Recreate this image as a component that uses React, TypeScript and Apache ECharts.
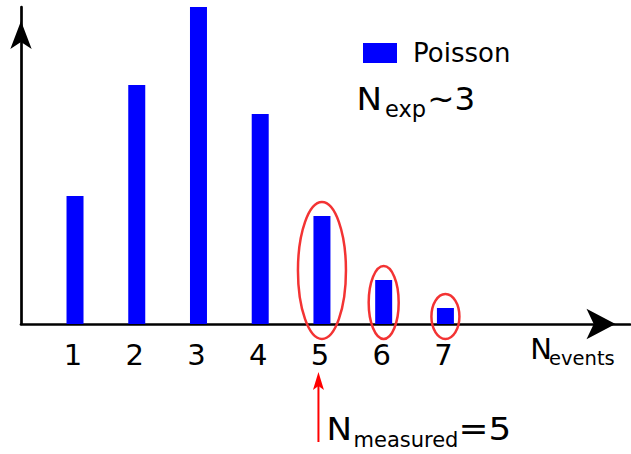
import React, { useEffect, useRef } from "react";
import * as echarts from "echarts";

const categories = [1, 2, 3, 4, 5, 6, 7];
const poissonValues = [128, 239, 317, 210, 108, 44, 16];
const tickLabels = ["1", "2", "3", "4", "5", "6", "7"];
const highlighted = [5, 6, 7];
const highlightRx = [24, 15, 14];

const FONT = "DejaVu Sans";
const central = (baseline: number, fs: number) => baseline - 0.346 * fs;

export default function App() {
  const ref = useRef<HTMLDivElement>(null);
  useEffect(() => {
    if (!ref.current) return;
    const chart = echarts.init(ref.current, null, { renderer: "svg" });
    const option: any = {
      animation: false,
      backgroundColor: "#ffffff",
      grid: { left: 21, right: 1, top: 7, bottom: 130, containLabel: false },
      legend: {
        show: true,
        left: 363,
        top: 40,
        padding: 0,
        itemWidth: 34,
        itemHeight: 20,
        icon: "rect",
        data: ["Poisson"],
        textStyle: { fontFamily: FONT, fontSize: 26, color: "#000", padding: [0, 0, 0, 11] },
      },
      xAxis: {
        type: "value",
        min: 0.125,
        max: 9.99,
        splitLine: { show: false },
        axisTick: { show: false },
        axisLine: {
          show: true,
          onZero: false,
          symbol: ["none", "arrow"],
          symbolSize: [23, 29],
          symbolOffset: [0, -14.5],
          lineStyle: { color: "#000", width: 2.7 },
        },
        axisLabel: {
          customValues: categories,
          formatter: (v: number) => {
            const t = tickLabels[categories.indexOf(Math.round(v))];
            return t ? "{a|" + t + "}" : "";
          },
          rich: { a: { fontFamily: FONT, fontSize: 29, color: "#000", padding: [0, 4, 0, 0] } },
          fontFamily: FONT,
          fontSize: 29,
          color: "#000",
          margin: 16,
        },
      },
      yAxis: {
        type: "value",
        min: 0,
        max: 317,
        splitLine: { show: false },
        axisTick: { show: false },
        axisLabel: { show: false },
        axisLine: {
          show: true,
          symbol: ["none", "arrow"],
          symbolSize: [16, 28],
          symbolOffset: [0, -14],
          lineStyle: { color: "#000", width: 2.7 },
        },
      },
      series: [
        {
          name: "Poisson",
          type: "bar",
          barWidth: 17,
          clip: false,
          itemStyle: { color: "#0000ff" },
          data: categories.map((c, i) => [c, poissonValues[i]]),
        },
      ],
    };
    chart.setOption(option);

    const graphics: any[] = [];
    highlighted.forEach((k, j) => {
      const idx = categories.indexOf(k);
      const [cx, top] = chart.convertToPixel({ gridIndex: 0 }, [k, poissonValues[idx]]);
      const [, base] = chart.convertToPixel({ gridIndex: 0 }, [k, 0]);
      const y1 = top - 14;
      const y2 = base + 15;
      graphics.push({
        type: "ellipse",
        shape: { cx, cy: (y1 + y2) / 2, rx: highlightRx[j], ry: (y2 - y1) / 2 },
        style: { fill: "none", stroke: "#f33333", lineWidth: 2.5 },
        z: 10,
      });
    });
    const [x5] = chart.convertToPixel({ gridIndex: 0 }, [5, 0]);
    const ax = x5 - 3.5;
    graphics.push(
      { type: "line", shape: { x1: ax, y1: 442, x2: ax, y2: 384 }, style: { stroke: "#ff0000", lineWidth: 2 } },
      {
        type: "polygon",
        shape: { points: [[ax, 372], [ax + 5.5, 390], [ax, 386], [ax - 5.5, 390]] },
        style: { fill: "#ff0000" },
      }
    );
    const txt = (text: string, x: number, baseline: number, fs: number, sx = 1) => ({
      type: "text",
      x,
      y: central(baseline, fs),
      scaleX: sx,
      style: { text, fontFamily: FONT, fontSize: fs, fill: "#000", align: "left", verticalAlign: "middle" },
      z: 20,
    });
    graphics.push(
      txt("N", 356.5, 110, 32.5, 1.05),
      txt("exp", 385, 116.5, 22.5),
      txt("~3", 427.3, 110, 32.5),
      txt("N", 530.2, 359, 29),
      txt("events", 549, 365.5, 19.5),
      txt("N", 326.5, 440, 32.5, 1.05),
      txt("measured", 353.5, 447, 21),
      txt("=5", 458.5, 440, 32.5, 1.1)
    );
    chart.setOption({ graphic: graphics });
    return () => chart.dispose();
  }, []);
  return <div ref={ref} style={{ position: "absolute", left: 0, top: 0, width: 631, height: 454 }} />;
}
